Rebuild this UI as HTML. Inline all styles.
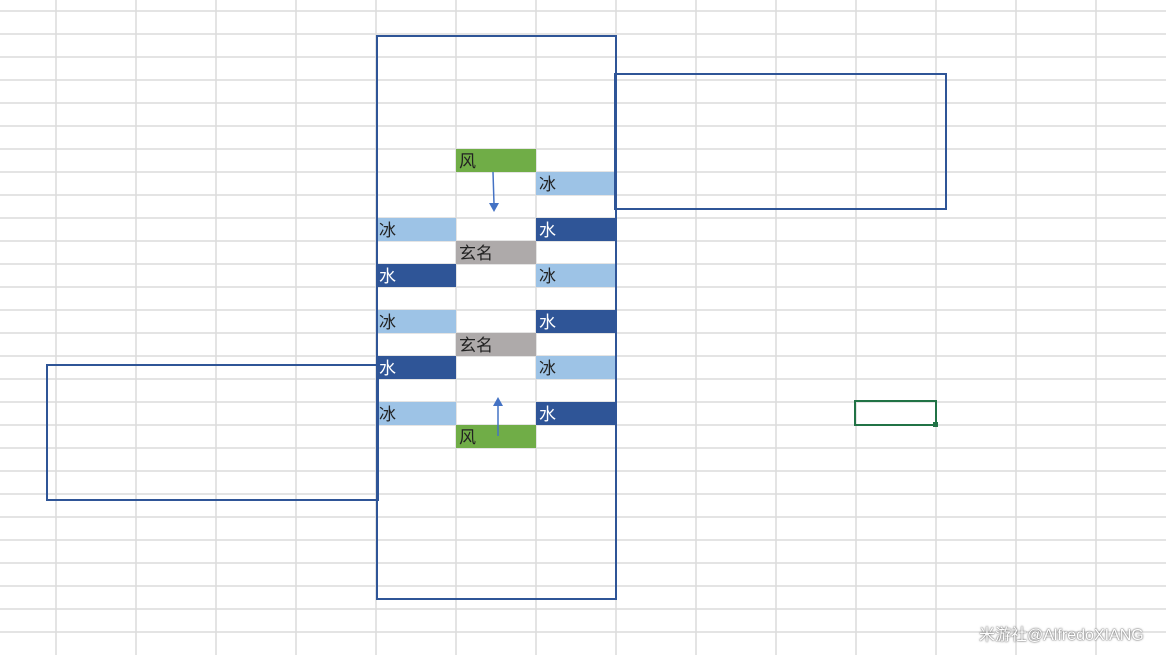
<!DOCTYPE html>
<html><head><meta charset="utf-8"><style>
body{margin:0;width:1166px;height:655px;overflow:hidden;background:#fff;font-family:"Liberation Sans","Noto Sans CJK SC",sans-serif;position:relative}
.c{position:absolute;height:23px;width:80px;font-size:17px;line-height:25px;padding-left:3px;box-sizing:border-box;color:#222}
.lb{background:#9dc3e6}.db{background:#2f5597;color:#fff}.g{background:#70ad47}.gr{background:#aeaaaa}
.box{position:absolute;border:2px solid #2f5597;box-sizing:border-box}
</style></head><body>
<svg width="1166" height="655" style="position:absolute;left:0;top:0">
<g stroke="#dcdcdc" stroke-width="1.5">
<line x1="56" y1="0" x2="56" y2="655"/><line x1="136" y1="0" x2="136" y2="655"/><line x1="216" y1="0" x2="216" y2="655"/><line x1="296" y1="0" x2="296" y2="655"/><line x1="376" y1="0" x2="376" y2="655"/><line x1="456" y1="0" x2="456" y2="655"/><line x1="536" y1="0" x2="536" y2="655"/><line x1="616" y1="0" x2="616" y2="655"/><line x1="696" y1="0" x2="696" y2="655"/><line x1="776" y1="0" x2="776" y2="655"/><line x1="856" y1="0" x2="856" y2="655"/><line x1="936" y1="0" x2="936" y2="655"/><line x1="1016" y1="0" x2="1016" y2="655"/><line x1="1096" y1="0" x2="1096" y2="655"/>
</g>
<g stroke="#dcdcdc" stroke-width="1.5" id="rows"></g>
</svg>
<script>
var g=document.getElementById('rows'),s='';for(var y=11;y<655;y+=23)s+='<line x1="0" y1="'+y+'" x2="1166" y2="'+y+'"/>';g.innerHTML=s;
</script>
<div class="c g" style="left:456px;top:149px">风</div>
<div class="c lb" style="left:536px;top:172px">冰</div>
<div class="c lb" style="left:376px;top:218px">冰</div>
<div class="c db" style="left:536px;top:218px">水</div>
<div class="c gr" style="left:456px;top:241px">玄名</div>
<div class="c db" style="left:376px;top:264px">水</div>
<div class="c lb" style="left:536px;top:264px">冰</div>
<div class="c lb" style="left:376px;top:310px">冰</div>
<div class="c db" style="left:536px;top:310px">水</div>
<div class="c gr" style="left:456px;top:333px">玄名</div>
<div class="c db" style="left:376px;top:356px">水</div>
<div class="c lb" style="left:536px;top:356px">冰</div>
<div class="c lb" style="left:376px;top:402px">冰</div>
<div class="c db" style="left:536px;top:402px">水</div>
<div class="c g" style="left:456px;top:425px">风</div>
<div class="box" style="left:376px;top:35px;width:241px;height:565px"></div>
<div class="box" style="left:614px;top:73px;width:333px;height:137px"></div>
<div class="box" style="left:46px;top:364px;width:333px;height:137px"></div>
<div style="position:absolute;left:854px;top:400px;width:83px;height:26px;border:2px solid #217346;box-sizing:border-box"></div>
<div style="position:absolute;left:933px;top:422px;width:5px;height:5px;background:#217346"></div>
<svg width="1166" height="655" style="position:absolute;left:0;top:0">
<line x1="493" y1="172" x2="494" y2="204" stroke="#4472c4" stroke-width="1.5"/>
<polygon points="489,203 499,203 494,212" fill="#4472c4"/>
<line x1="498" y1="436" x2="498" y2="405" stroke="#4472c4" stroke-width="1.5"/>
<polygon points="493,406 503,406 498,397" fill="#4472c4"/>
</svg>
<div style="position:absolute;left:979px;top:621px;font-size:16px;color:#fff;text-shadow:0 0 2px #666,0 0 1px #555">米游社@AlfredoXIANG</div>
</body></html>
